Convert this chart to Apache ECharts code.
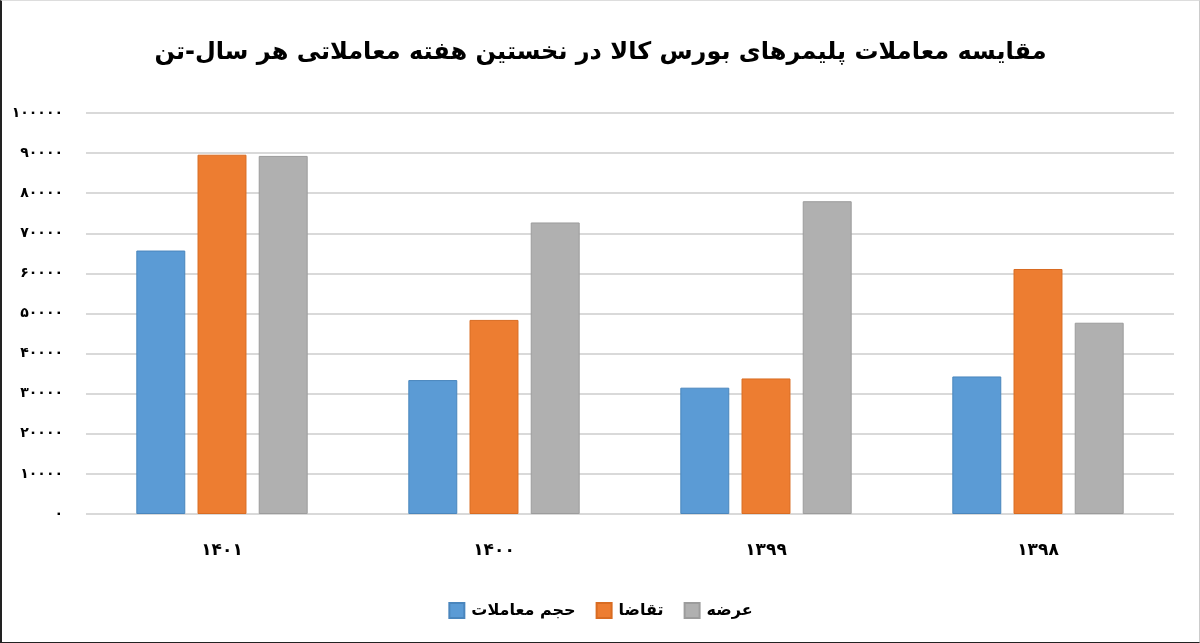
<!DOCTYPE html>
<html>
<head>
<meta charset="utf-8">
<script src="https://cdn.jsdelivr.net/npm/echarts@6/dist/echarts.min.js"></script>
<style>
html,body{margin:0;padding:0;background:#fff;}
#wrap{position:absolute;left:0;top:0;width:1200px;height:643px;box-sizing:border-box;border-left:2px solid #222;border-bottom:1px solid #222;border-top:1px solid #ddd;border-right:1px solid #ccc;}
#chart{width:100%;height:100%;}
</style>
</head>
<body>
<div id="wrap"><div id="chart"></div></div>
<script>
const titleText = 'مقایسه معاملات پلیمرهای بورس کالا در نخستین هفته معاملاتی هر سال-تن';
const categories = ['۱۴۰۱', '۱۴۰۰', '۱۳۹۹', '۱۳۹۸'];
const seriesNames = ['حجم معاملات', 'تقاضا', 'عرضه'];
const volumeValues = [65700, 33400, 31500, 34300];
const demandValues = [89600, 48400, 33800, 61100];
const supplyValues = [89300, 72700, 78000, 47700];
const yMin = 0, yMax = 100000, yInterval = 10000;

const faDigits = '۰۱۲۳۴۵۶۷۸۹';
function toFa(v){ return String(v).replace(/\d/g, d => faDigits[d]); }

const font = '"DejaVu Sans", "Noto Sans", sans-serif';
const colors = ['#5B9BD5', '#ED7D31', '#B0B0B0'];
const borders = ['#4a86bd', '#d96c22', '#9c9c9c'];
const dataArr = [volumeValues, demandValues, supplyValues];

const chart = echarts.init(document.getElementById('chart'));
chart.setOption({
  animation: false,
  textStyle: { fontFamily: font },
  title: {
    text: titleText,
    left: 'center',
    top: 35,
    textStyle: { fontFamily: font, fontSize: 24, fontWeight: 'bold', color: '#000' }
  },
  legend: {
    bottom: 18,
    left: 612,
    icon: 'rect',
    itemWidth: 15,
    itemHeight: 15,
    itemGap: 20,
    textStyle: { fontFamily: font, fontSize: 16, fontWeight: 'bold', color: '#000', padding: [0, 0, 0, 2] },
    data: seriesNames
  },
  grid: { left: 84, right: 25, top: 112, bottom: 128, containLabel: false },
  xAxis: {
    type: 'category',
    data: categories,
    axisLine: { show: false },
    axisTick: { show: false },
    axisLabel: { margin: 28, fontFamily: font, fontSize: 17, fontWeight: 'bold', color: '#000' }
  },
  yAxis: {
    type: 'value',
    min: yMin, max: yMax, interval: yInterval,
    axisLine: { show: false },
    axisTick: { show: false },
    axisLabel: { margin: 23, fontFamily: font, fontSize: 14, fontWeight: 'bold', color: '#000', formatter: v => toFa(v) },
    splitLine: { lineStyle: { color: '#d9d9d9', width: 2 } }
  },
  series: seriesNames.map((n, i) => ({
    name: n,
    type: 'bar',
    data: dataArr[i],
    barGap: '25%',
    barCategoryGap: '37%',
    itemStyle: { color: colors[i], borderColor: borders[i], borderWidth: 1 }
  }))
});
chart.setOption({ legend: { left: 'center' } });
</script>
</body>
</html>
